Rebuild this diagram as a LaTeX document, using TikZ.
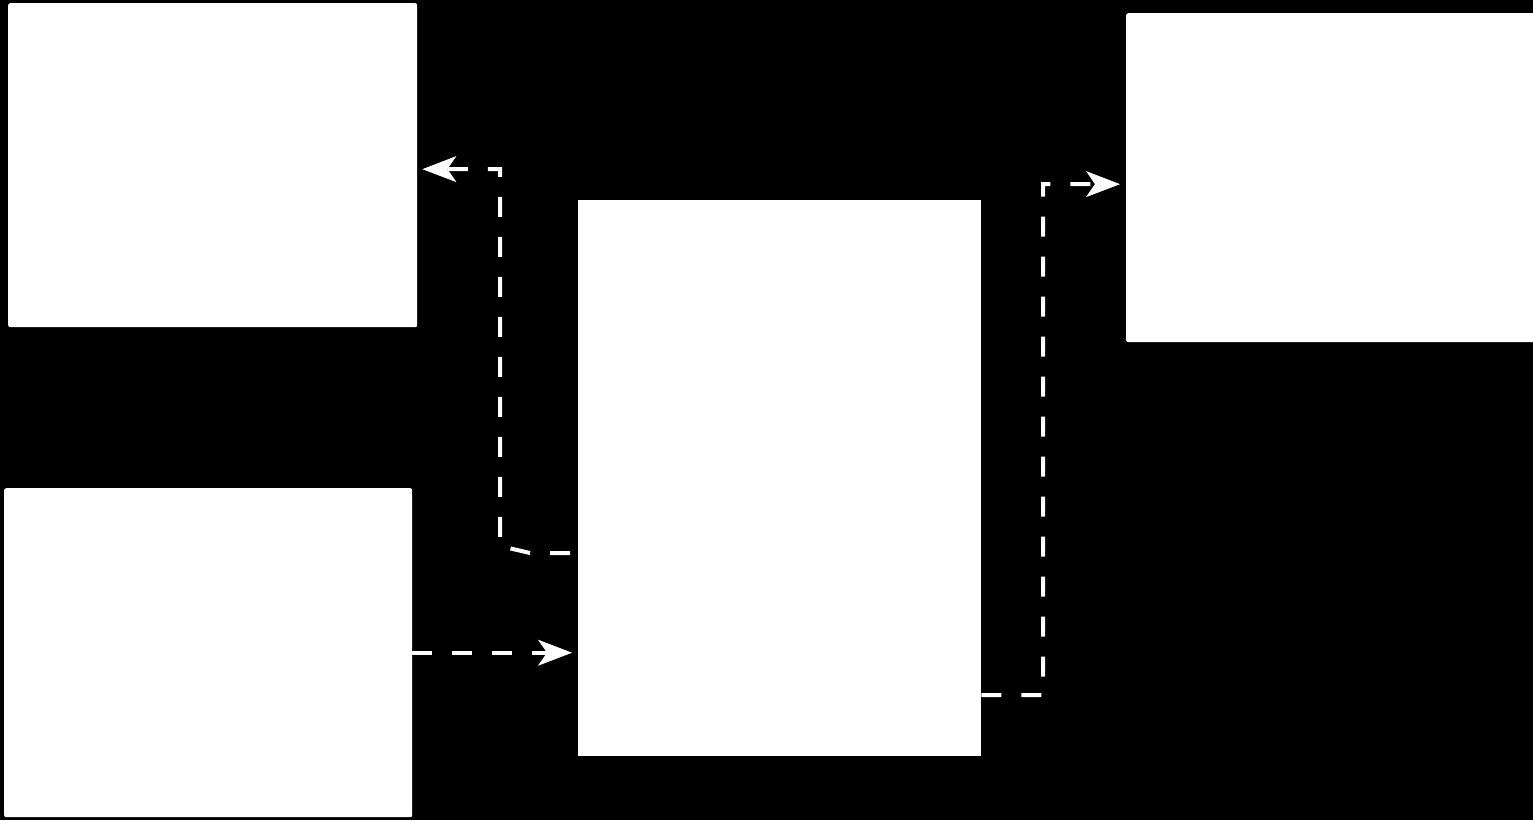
\documentclass[tikz,border=0pt]{standalone}
\usetikzlibrary{arrows.meta}
\begin{document}
\begin{tikzpicture}[x=1pt,y=-1pt,
  box/.style={fill=white,draw=none,rounded corners=2pt,inner sep=0pt,anchor=north west},
  flow/.style={draw=white,line width=4pt,dash pattern=on 20pt off 20pt,
    -{Stealth[length=34pt,width=26pt,inset=9pt,fill=white,line width=1pt,sep=0pt]}}
]
\fill[black] (0,0) rectangle (1533,820);
\useasboundingbox (0,0) rectangle (1533,820);
\node[box,minimum width=409pt,minimum height=324pt] (A) at (8,3) {};
\node[box,minimum width=408pt,minimum height=329pt] (B) at (4,488) {};
\node[box,rounded corners=0pt,minimum width=403pt,minimum height=556pt] (C) at (578,200) {};
\node[box,minimum width=420pt,minimum height=329pt] (D) at (1126,13) {};
\begin{scope}
\clip (0,0) rectangle (1533,820);
\draw[flow,shorten >=5pt]
  ([xshift=-8pt,yshift=-75pt]C.west) -- (530,553) -- (500,546) -- (500,169) -- ([yshift=-4pt]A.east);
\draw[flow,shorten >=6pt] (B.east) -- (B.east -| C.west);
\draw[flow,shorten >=6pt]
  ([yshift=-217pt]C.east) -- (1043,695) -- (1043,184) -- ([yshift=-6.5pt]D.west);
\end{scope}
\end{tikzpicture}
\end{document}
